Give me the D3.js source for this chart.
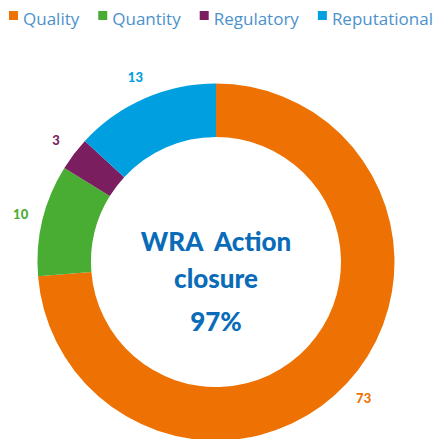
<!DOCTYPE html>
<html>
<head>
<meta charset="utf-8">
<script src="https://cdn.jsdelivr.net/npm/d3@7"></script>
<style>
  body { margin: 0; background: #fff; }
  svg { display: block; font-family: "Open Sans", "Noto Sans", sans-serif; }
</style>
</head>
<body>
<div id="chart"></div>
<script>
// DATA ------------------------------
const categories = ["Quality", "Quantity", "Regulatory", "Reputational"];
const values = [73, 10, 3, 13];
const colours = ["#ee7203", "#49ad33", "#7b1e5f", "#009fe0"];
const centreLines = ["WRA\u00a0 Action", "closure", "97%"];

// CHART INIT ------------------------------
const width = 434, height = 439;
const cx = 216, cy = 262;
const outerR = 178.5, innerR = 125, labelR = 201;
const lineY = [-11, 26, 69];

let svg = d3.select("#chart").append("svg")
  .attr("width", width)
  .attr("height", height);

let data = categories.map((c, i) => ({cat: c, value: values[i], colour: colours[i]}));

let pie = d3.pie().sort(null).value(d => d.value);
let arc = d3.arc().innerRadius(innerR).outerRadius(outerR);
let labelArc = d3.arc().innerRadius(labelR).outerRadius(labelR);

let g = svg.append("g").attr("transform", "translate(" + cx + "," + cy + ")");

g.selectAll(".slice")
  .data(pie(data))
  .enter()
  .append("path")
  .attr("class", "slice")
  .attr("d", arc)
  .attr("fill", d => d.data.colour);

g.selectAll(".val")
  .data(pie(data))
  .enter()
  .append("text")
  .attr("class", "val")
  .attr("transform", d => "translate(" + labelArc.centroid(d) + ")")
  .attr("text-anchor", "middle")
  .attr("dy", "0.35em")
  .style("font-family", "Lato, sans-serif")
  .style("font-size", "13px")
  .style("font-weight", 900)
  .attr("fill", d => d.data.colour)
  .text(d => d.data.value);

// centre text
g.selectAll(".centre")
  .data(centreLines)
  .enter()
  .append("text")
  .attr("class", "centre")
  .attr("text-anchor", "middle")
  .attr("y", (d, i) => lineY[i])
  .style("font-family", "Lato, sans-serif")
  .style("font-size", "26px")
  .style("font-weight", 900)
  .attr("fill", "#0a6cb9")
  .text(d => d);

// LEGEND ------------------------------
let legend = svg.append("g").attr("class", "legend");
let texts = categories.map(c => legend.append("text")
  .style("font-size", "17px")
  .attr("fill", "#4b92cc")
  .attr("y", 25)
  .text(c));
let total = d3.sum(texts, t => t.node().getComputedTextLength());
let gap = (433 - 9 - total - 4 * 14) / 3;
let x = 9;
categories.forEach((c, i) => {
  legend.append("rect")
    .attr("x", x).attr("y", 11)
    .attr("width", 9).attr("height", 9)
    .attr("fill", colours[i]);
  texts[i].attr("x", x + 14);
  x += 14 + texts[i].node().getComputedTextLength() + gap;
});
</script>
</body>
</html>
